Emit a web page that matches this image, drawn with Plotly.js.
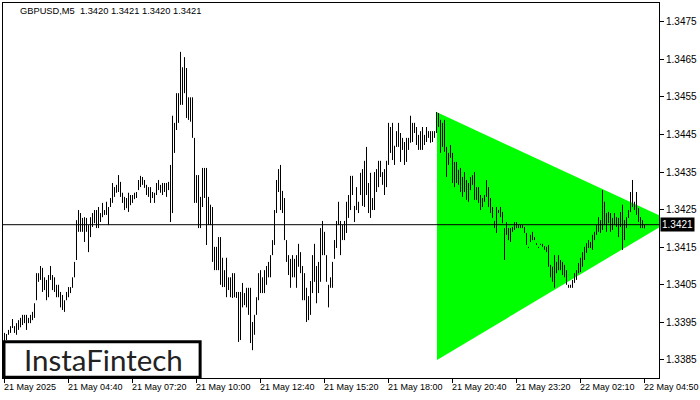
<!DOCTYPE html>
<html>
<head>
<meta charset="utf-8">
<script src="https://cdn.plot.ly/plotly-3.0.1.min.js"></script>
<style>html,body{margin:0;padding:0;background:#fff;}#chart{width:700px;height:400px;}</style>
</head>
<body>
<div id="chart"></div>
<script>
// GBPUSD M5 bars (high / low), one entry per 5-minute bar
var highs = [
1.33922,1.33919,1.33930,1.33940,1.33959,1.33940,1.33948,1.33956,1.33962,1.33970,
1.33970,1.33970,1.33962,1.33970,1.33978,1.34001,1.34081,1.34081,1.34100,1.34095,
1.34070,1.34063,1.34076,1.34100,1.34076,1.34070,1.34050,1.34050,1.34031,1.34023,
1.34009,1.34031,1.34044,1.34044,1.34070,1.34111,1.34222,1.34249,1.34241,1.34228,
1.34230,1.34228,1.34209,1.34230,1.34241,1.34249,1.34249,1.34257,1.34241,1.34268,
1.34249,1.34271,1.34257,1.34281,1.34321,1.34310,1.34316,1.34342,1.34324,1.34295,
1.34284,1.34281,1.34295,1.34289,1.34289,1.34295,1.34297,1.34329,1.34340,1.34337,
1.34329,1.34316,1.34310,1.34310,1.34297,1.34295,1.34321,1.34329,1.34316,1.34321,
1.34321,1.34321,1.34324,1.34369,1.34500,1.34481,1.34560,1.34560,1.34670,1.34629,
1.34656,1.34627,1.34549,1.34549,1.34549,1.34441,1.34342,1.34342,1.34284,1.34361,
1.34361,1.34361,1.34284,1.34263,1.34257,1.34151,1.34151,1.34177,1.34177,1.34122,
1.34089,1.34122,1.34070,1.34070,1.34081,1.34081,1.34031,1.34031,1.34031,1.34055,
1.34028,1.34042,1.34042,1.34042,1.33951,1.33970,1.34017,1.34081,1.34089,1.34070,
1.34089,1.34100,1.34111,1.34129,1.34169,1.34249,1.34329,1.34358,1.34369,1.34300,
1.34281,1.34169,1.34129,1.34119,1.34129,1.34119,1.34129,1.34159,1.34137,1.34100,
1.34081,1.34042,1.34020,1.34060,1.34129,1.34159,1.34100,1.34111,1.34201,1.34220,
1.34191,1.34129,1.34050,1.34070,1.34111,1.34169,1.34220,1.34271,1.34220,1.34209,
1.34220,1.34271,1.34289,1.34340,1.34340,1.34260,1.34310,1.34271,1.34348,1.34358,
1.34380,1.34417,1.34321,1.34348,1.34281,1.34350,1.34358,1.34380,1.34380,1.34350,
1.34358,1.34380,1.34481,1.34470,1.34481,1.34420,1.34459,1.34481,1.34454,1.34441,
1.34430,1.34441,1.34441,1.34500,1.34481,1.34481,1.34470,1.34449,1.34459,1.34470,
1.34449,1.34470,1.34459,1.34459,1.34459,1.34459,1.34510,1.34507,1.34489,1.34481,
1.34489,1.34417,1.34401,1.34422,1.34401,1.34377,1.34377,1.34356,1.34361,1.34337,
1.34350,1.34329,1.34321,1.34337,1.34342,1.34350,1.34310,1.34310,1.34289,1.34281,
1.34289,1.34329,1.34310,1.34281,1.34257,1.34220,1.34257,1.34249,1.34257,1.34244,
1.34201,1.34217,1.34201,1.34201,1.34204,1.34217,1.34217,1.34209,1.34209,1.34209,
1.34204,1.34188,1.34151,1.34183,1.34191,1.34177,1.34161,1.34151,1.34159,1.34159,
1.34153,1.34151,1.34156,1.34103,1.34098,1.34129,1.34111,1.34129,1.34116,1.34111,
1.34103,1.34089,1.34050,1.34050,1.34063,1.34081,1.34089,1.34108,1.34122,1.34137,
1.34151,1.34161,1.34169,1.34164,1.34183,1.34191,1.34209,1.34230,1.34222,1.34302,
1.34271,1.34241,1.34244,1.34241,1.34228,1.34241,1.34230,1.34228,1.34244,1.34263,
1.34222,1.34230,1.34249,1.34297,1.34329,1.34271,1.34297,1.34254,1.34230,1.34222,
1.34210];
var lows = [
1.33898,1.33903,1.33917,1.33922,1.33935,1.33922,1.33917,1.33930,1.33937,1.33943,
1.33948,1.33930,1.33948,1.33948,1.33956,1.33962,1.34009,1.34058,1.34063,1.34031,
1.34036,1.34009,1.34017,1.34063,1.34036,1.34031,1.34017,1.34017,1.33990,1.33983,
1.33978,1.34009,1.34017,1.34028,1.34042,1.34070,1.34116,1.34191,1.34191,1.34191,
1.34164,1.34191,1.34137,1.34177,1.34204,1.34214,1.34201,1.34201,1.34217,1.34230,
1.34236,1.34236,1.34209,1.34257,1.34268,1.34284,1.34295,1.34297,1.34284,1.34268,
1.34249,1.34254,1.34244,1.34262,1.34268,1.34278,1.34281,1.34302,1.34310,1.34316,
1.34308,1.34289,1.34284,1.34268,1.34281,1.34268,1.34289,1.34302,1.34295,1.34289,
1.34297,1.34284,1.34302,1.34217,1.34241,1.34401,1.34462,1.34481,1.34529,1.34529,
1.34560,1.34494,1.34489,1.34484,1.34441,1.34268,1.34268,1.34201,1.34201,1.34257,
1.34281,1.34156,1.34209,1.34209,1.34111,1.34089,1.34089,1.34089,1.34050,1.34044,
1.34044,1.34017,1.34036,1.34017,1.34015,1.34017,1.34015,1.33898,1.33903,1.33990,
1.33996,1.33990,1.33970,1.33895,1.33876,1.33917,1.33970,1.34009,1.34028,1.34028,
1.34028,1.34050,1.34070,1.34070,1.34129,1.34156,1.34241,1.34297,1.34249,1.34241,
1.34169,1.34111,1.34076,1.34042,1.34070,1.34070,1.34042,1.34098,1.34081,1.34009,
1.34009,1.33951,1.33956,1.33970,1.34028,1.34058,1.34001,1.34028,1.34058,1.34129,
1.34129,1.34058,1.33990,1.34042,1.34042,1.34119,1.34148,1.34209,1.34129,1.34169,
1.34169,1.34188,1.34228,1.34249,1.34289,1.34217,1.34249,1.34241,1.34289,1.34260,
1.34257,1.34289,1.34241,1.34228,1.34249,1.34249,1.34297,1.34310,1.34337,1.34316,
1.34289,1.34310,1.34369,1.34401,1.34382,1.34369,1.34417,1.34417,1.34377,1.34409,
1.34369,1.34377,1.34409,1.34428,1.34430,1.34454,1.34422,1.34409,1.34409,1.34409,
1.34422,1.34430,1.34441,1.34428,1.34430,1.34441,1.34454,1.34470,1.34401,1.34417,
1.34404,1.34337,1.34369,1.34388,1.34321,1.34310,1.34321,1.34316,1.34297,1.34284,
1.34297,1.34276,1.34271,1.34302,1.34316,1.34276,1.34276,1.34268,1.34249,1.34257,
1.34271,1.34284,1.34257,1.34241,1.34228,1.34201,1.34188,1.34241,1.34230,1.34214,
1.34116,1.34183,1.34169,1.34164,1.34191,1.34196,1.34201,1.34201,1.34201,1.34201,
1.34188,1.34156,1.34148,1.34164,1.34169,1.34169,1.34156,1.34148,1.34156,1.34151,
1.34143,1.34137,1.34098,1.34070,1.34058,1.34042,1.34081,1.34089,1.34089,1.34076,
1.34070,1.34050,1.34042,1.34042,1.34042,1.34055,1.34063,1.34081,1.34084,1.34098,
1.34116,1.34135,1.34148,1.34148,1.34143,1.34169,1.34183,1.34191,1.34188,1.34196,
1.34209,1.34191,1.34214,1.34191,1.34196,1.34209,1.34204,1.34177,1.34204,1.34143,
1.34169,1.34201,1.34228,1.34244,1.34257,1.34249,1.34236,1.34217,1.34201,1.34201,
1.34200];

// time axis labels (bar index -> label)
var timeTickIdx = [0, 32, 64, 96, 128, 160, 192, 224, 256, 288, 320];
var timeTickText = ["21 May 2025", "21 May 04:40", "21 May 07:20", "21 May 10:00", "21 May 12:40",
  "21 May 15:20", "21 May 18:00", "21 May 20:40", "21 May 23:20", "22 May 02:10", "22 May 04:50"];

// price axis labels
var priceTicks = [1.3385, 1.3395, 1.3405, 1.3415, 1.3425, 1.3435, 1.3445, 1.3455, 1.3465, 1.3475];

// current bid and header values
var symbol = "GBPUSD,M5";
var lastOHLC = ["1.3420", "1.3421", "1.3420", "1.3421"];
var bidPrice = 1.3421;

// symmetrical triangle pattern vertices (bar index, price)
var triX = [216.25, 216.25, 333];
var triY = [1.34509, 1.33850, 1.34221];

// build bar segments
var bx = [], by = [];
for (var i = 0; i < highs.length; i++) {
  bx.push(i, i, null);
  by.push(lows[i], highs[i], null);
}

var traces = [
  {
    type: 'scatter', mode: 'lines',
    x: triX.concat([triX[0]]), y: triY.concat([triY[0]]),
    fill: 'toself', fillcolor: '#00ff00',
    line: {width: 0, color: '#00ff00'},
    hoverinfo: 'skip', showlegend: false
  },
  {
    type: 'scatter', mode: 'lines',
    x: bx, y: by, connectgaps: false,
    line: {color: '#000000', width: 1},
    hoverinfo: 'skip', showlegend: false
  }
];

var fontFam = 'Liberation Sans, Arial, sans-serif';

var annotations = [
  {xref: 'paper', yref: 'paper', x: 0.0229, y: 1, xanchor: 'left', yanchor: 'top', yshift: -1,
   text: symbol + '\u00a0 ' + lastOHLC.join(' '), showarrow: false,
   font: {family: fontFam, size: 9.3, color: '#000'}},
  {xref: 'paper', yref: 'y', x: 1, y: bidPrice, xanchor: 'left', yanchor: 'middle', xshift: 1,
   text: bidPrice.toFixed(4), showarrow: false, bgcolor: '#000', borderpad: 1,
   font: {family: fontFam, size: 10, color: '#fff'}},
  {xref: 'paper', yref: 'paper', x: 0.1525, y: 0.05, xanchor: 'center', yanchor: 'middle',
   text: 'InstaFintech', showarrow: false,
   font: {family: 'Lato, sans-serif', size: 29.5, color: '#222'}}
];
// time labels, left-aligned on their tick marks like the terminal does
timeTickIdx.forEach(function (idx, k) {
  annotations.push({
    xref: 'x', yref: 'paper', x: idx, y: 0, xanchor: 'left', yanchor: 'top',
    xshift: -1.5, yshift: -3, borderpad: 0,
    text: timeTickText[k], showarrow: false,
    font: {family: fontFam, size: 9, color: '#000'}
  });
});

var layout = {
  width: 700, height: 400,
  margin: {l: 3, r: 41, t: 3, b: 22, pad: 0},
  paper_bgcolor: '#ffffff', plot_bgcolor: '#ffffff',
  showlegend: false,
  xaxis: {
    range: [-0.75, 327.25],
    showgrid: false, zeroline: false,
    showline: true, mirror: true, linecolor: '#000', linewidth: 1,
    ticks: 'outside', ticklen: 4, tickcolor: '#000', tickwidth: 1,
    tickmode: 'array', tickvals: timeTickIdx, showticklabels: false,
    automargin: false,
    fixedrange: true
  },
  yaxis: {
    range: [1.33802, 1.34800],
    side: 'right',
    showgrid: false, zeroline: false,
    showline: true, mirror: true, linecolor: '#000', linewidth: 1,
    ticks: 'outside', ticklen: 4, tickcolor: '#000', tickwidth: 1,
    tickmode: 'array', tickvals: priceTicks,
    ticktext: priceTicks.map(function (v) { return v.toFixed(4); }),
    tickfont: {family: fontFam, size: 10, color: '#000'},
    automargin: false,
    fixedrange: true
  },
  shapes: [
    {type: 'line', xref: 'paper', x0: 0, x1: 1, yref: 'y', y0: bidPrice, y1: bidPrice,
     line: {color: '#000', width: 1}, layer: 'above'},
    {type: 'rect', xref: 'paper', x0: 0.0015, x1: 0.3005, yref: 'paper', y0: 0.002, y1: 0.097,
     fillcolor: '#ffffff', line: {color: '#000', width: 3}, layer: 'above'}
  ],
  annotations: annotations
};

Plotly.newPlot('chart', traces, layout, {staticPlot: true, displayModeBar: false});
</script>
</body>
</html>
